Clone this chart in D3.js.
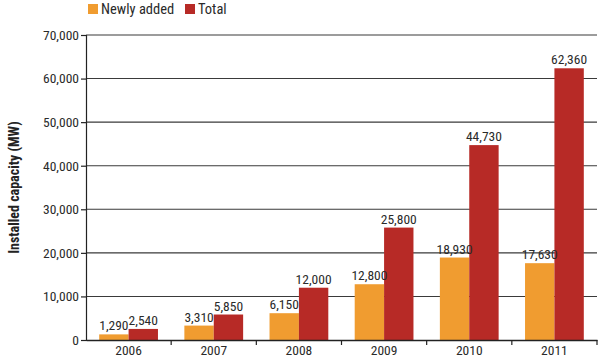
<!DOCTYPE html>
<html><head><meta charset="utf-8">
<script src="https://cdn.jsdelivr.net/npm/d3@7"></script>
<style>
body{margin:0;background:#fff;}
text{font-family:"Liberation Sans Narrow","Arial Narrow","Roboto Condensed",sans-serif;}
</style></head><body>
<svg id="c" width="600" height="358"></svg>
<script>
const years = ["2006","2007","2008","2009","2010","2011"];
const newlyAdded = [1290, 3310, 6150, 12800, 18930, 17630];
const total = [2540, 5850, 12000, 25800, 44730, 62360];
const seriesNames = ["Newly added", "Total"];
const seriesColors = ["#F09C30", "#B72A26"];
const yTicks = [0,10000,20000,30000,40000,50000,60000,70000];

const svg = d3.select("#c");
const m = {l:86, r:3, t:35, b:18};
const W = 600, H = 358;
const FS = 13.5;
const TXT = "#2a2a2a";
const x = d3.scaleBand().domain(years).range([m.l, W-m.r]).paddingInner(0).paddingOuter(0);
const y = d3.scaleLinear().domain([0,70000]).range([H-m.b, m.t]);
const fmt = d3.format(",");

// gridlines
svg.append("g").selectAll("line").data(yTicks.slice(1)).join("line")
  .attr("x1", m.l).attr("x2", W-m.r).attr("y1", d=>y(d)).attr("y2", d=>y(d))
  .attr("stroke","#3a3a3a").attr("stroke-width",1.1);

const data = years.map((yr,i)=>({yr, vals:[newlyAdded[i], total[i]]}));
const pad = x.bandwidth()*0.155;
const bw = (x.bandwidth()-2*pad)/2;
const g = svg.append("g");
data.forEach(d=>{
  d.vals.forEach((v,j)=>{
    const bx = x(d.yr)+pad+j*bw;
    g.append("rect").attr("x",bx).attr("width",bw).attr("y",y(v)).attr("height",y(0)-y(v))
      .attr("fill",seriesColors[j]);
  });
});
data.forEach(d=>{
  d.vals.forEach((v,j)=>{
    const bx = x(d.yr)+pad+j*bw;
    g.append("text").attr("x",bx+bw/2).attr("y",y(v)-4).attr("text-anchor","middle")
      .attr("font-size",FS).attr("fill",TXT).text(fmt(v));
  });
});

// y axis
const ya = svg.append("g").attr("transform",`translate(${m.l},0)`)
  .call(d3.axisLeft(y).tickValues(yTicks).tickFormat(fmt).tickSize(5).tickPadding(2));
ya.select(".domain").attr("stroke","#222").attr("stroke-width",1.2);
ya.selectAll(".tick line").attr("stroke","#222").attr("stroke-width",1.2);
ya.selectAll("text").attr("font-size",FS).attr("fill",TXT).attr("font-family",'"Liberation Sans Narrow","Arial Narrow",sans-serif');

// x axis
const xa = svg.append("g").attr("transform",`translate(0,${H-m.b})`)
  .call(d3.axisBottom(x).tickSize(0).tickPadding(5));
xa.select(".domain").attr("stroke","#222").attr("stroke-width",1.5);
xa.selectAll("text").attr("font-size",FS).attr("fill",TXT).attr("dy","0.71em").attr("font-family",'"Liberation Sans Narrow","Arial Narrow",sans-serif');
// boundary ticks
svg.append("g").selectAll("line").data(years.slice(1).concat(["end"])).join("line")
  .attr("x1",d=> d==="end"? W-m.r : x(d)).attr("x2",d=> d==="end"? W-m.r : x(d))
  .attr("y1",H-m.b).attr("y2",H-m.b+5).attr("stroke","#222").attr("stroke-width",1.2);

// y title
svg.append("text").attr("transform",`translate(14,${(m.t+H-m.b)/2}) rotate(-90)`)
  .attr("text-anchor","middle").attr("dy","0.35em").attr("font-size",14).attr("font-weight","bold")
  .attr("fill","#222").text("Installed capacity (MW)");

// legend
const lg = svg.append("g");
const lx = [88, 185];
seriesNames.forEach((n,i)=>{
  lg.append("rect").attr("x",lx[i]).attr("y",4).attr("width",10).attr("height",10).attr("fill",seriesColors[i]);
  lg.append("text").attr("x",lx[i]+13).attr("y",9).attr("dy","0.35em").attr("font-size",14.5).attr("fill",TXT).text(n);
});
</script></body></html>
